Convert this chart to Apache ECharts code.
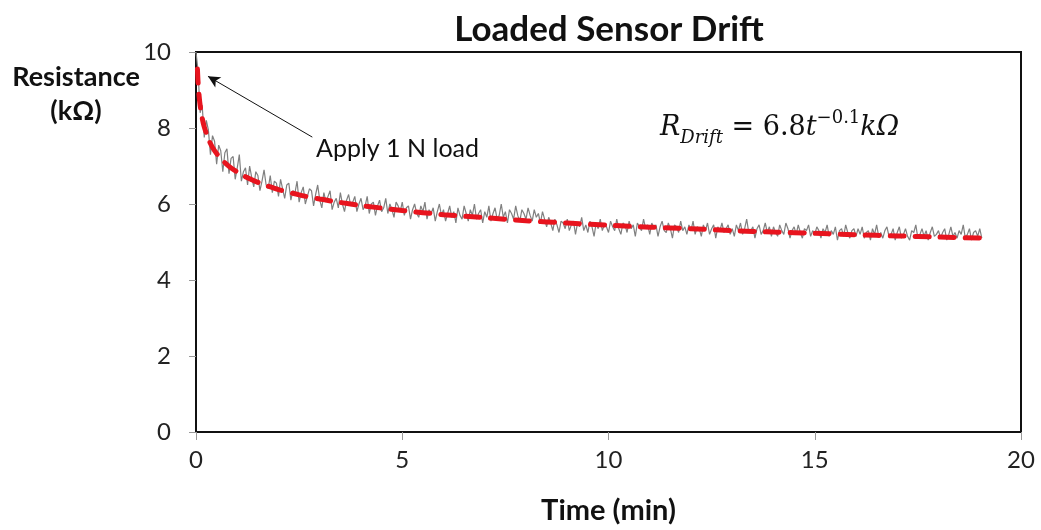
<!DOCTYPE html>
<html>
<head>
<meta charset="utf-8">
<script src="https://cdn.jsdelivr.net/npm/echarts@6/dist/echarts.min.js"></script>
<style>
  html, body { margin: 0; padding: 0; background: #fff; }
  #divDrift { width: 1041px; height: 530px; }
</style>
</head>
<body>
<div id="divDrift"></div>
<script>
// measured resistance, one sample every 0.05 min starting at t = 0
var sampleStep = 0.05;
var measured = [
    10.0, 9.5, 8.4, 8.6, 7.75, 8.2, 7.95, 7.3, 7.8, 7.65, 7.05, 7.55, 7.4, 6.85, 7.35, 7.45, 6.8, 7.2, 7.25, 6.65,
    6.95, 7.3, 6.6, 6.85, 6.95, 6.5, 7.0, 6.7, 6.45, 6.85, 6.75, 6.35, 6.6, 6.9, 6.5, 6.4, 6.75, 6.3, 6.6, 6.55,
    6.2, 6.65, 6.4, 6.15, 6.5, 6.55, 6.1, 6.35, 6.3, 6.6, 6.05, 6.3, 6.45, 6.0, 6.2, 6.4, 6.35, 5.95, 6.25, 6.5,
    6.1, 5.9, 6.3, 6.05, 6.2, 6.35, 5.85, 6.05, 6.15, 5.9, 6.3, 6.0, 5.8, 6.1, 6.25, 5.95, 6.05, 6.2, 5.8, 6.0,
    6.15, 5.85, 5.95, 6.2, 5.75, 6.0, 6.05, 5.7, 5.95, 6.1, 5.8, 5.9, 6.15, 5.75, 6.0, 5.85, 5.65, 6.05, 5.95, 5.8,
    6.05, 5.7, 5.9, 5.95, 5.6, 5.85, 6.0, 5.75, 5.65, 5.95, 5.8, 6.05, 5.6, 5.85, 5.75, 5.9, 5.55, 5.8, 6.0, 5.7,
    5.85, 5.55, 5.75, 5.95, 5.65, 5.8, 5.5, 5.9, 5.7, 5.6, 5.95, 5.75, 5.55, 5.85, 5.7, 6.0, 5.6, 5.75, 5.85, 5.5,
    5.8, 5.65, 5.95, 5.55, 5.75, 5.9, 5.6, 5.7, 6.0, 5.65, 5.8, 5.5, 5.85, 5.75, 5.6, 5.95, 5.7, 5.55, 5.85, 5.75,
    5.6, 5.9, 5.7, 5.55, 5.85, 5.65, 5.75, 5.5, 5.8, 5.6, 5.4, 5.65, 5.5, 5.3, 5.6, 5.45, 5.25, 5.55, 5.5, 5.35,
    5.6, 5.3, 5.45, 5.55, 5.2, 5.5, 5.4, 5.65, 5.3, 5.45, 5.25, 5.55, 5.4, 5.15, 5.5, 5.35, 5.6, 5.3, 5.45, 5.4,
    5.25, 5.55, 5.4, 5.3, 5.6, 5.35, 5.2, 5.5, 5.45, 5.25, 5.55, 5.35, 5.45, 5.15, 5.5, 5.4, 5.3, 5.6, 5.35, 5.45,
    5.2, 5.5, 5.35, 5.45, 5.15, 5.4, 5.55, 5.3, 5.25, 5.5, 5.35, 5.1, 5.45, 5.4, 5.25, 5.55, 5.3, 5.4, 5.2, 5.45,
    5.3, 5.55, 5.2, 5.4, 5.35, 5.15, 5.45, 5.3, 5.5, 5.2, 5.35, 5.45, 5.1, 5.4, 5.3, 5.5, 5.25, 5.35, 5.45, 5.2,
    5.35, 5.15, 5.45, 5.3, 5.5, 5.2, 5.35, 5.6, 5.25, 5.3, 5.4, 5.1, 5.35, 5.45, 5.2, 5.3, 5.5, 5.25, 5.4, 5.15,
    5.4, 5.25, 5.15, 5.45, 5.3, 5.2, 5.5, 5.35, 5.1, 5.3, 5.4, 5.2, 5.45, 5.25, 5.1, 5.35, 5.3, 5.45, 5.15, 5.3,
    5.2, 5.4, 5.3, 5.1, 5.35, 5.25, 5.45, 5.15, 5.3, 5.2, 5.4, 5.05, 5.3, 5.35, 5.15, 5.45, 5.25, 5.1, 5.3, 5.35,
    5.15, 5.35, 5.2, 5.4, 5.1, 5.25, 5.3, 5.05, 5.35, 5.2, 5.45, 5.15, 5.25, 5.1, 5.3, 5.4, 5.15, 5.2, 5.35, 5.05,
    5.25, 5.4, 5.1, 5.2, 5.35, 5.15, 5.05, 5.3, 5.25, 5.45, 5.1, 5.2, 5.35, 5.15, 5.3, 5.05, 5.25, 5.4, 5.15, 5.2,
    5.3, 5.1, 5.25, 5.35, 5.05, 5.2, 5.4, 5.15, 5.25, 5.1, 5.3, 5.2, 5.45, 5.1, 5.2, 5.35, 5.05, 5.25, 5.3, 5.15,
    5.35, 5.1
];

// dashed drift fit R = 6.8 t^-0.1
var fitTime = [0.035, 0.05, 0.075, 0.1, 0.15, 0.2, 0.3, 0.4, 0.5, 0.65, 0.8, 1, 1.25, 1.5, 1.75, 2, 2.5, 3, 3.5, 4,
               5, 6, 7, 8, 9, 10, 11, 12, 13, 14, 15, 16, 17, 18, 19.2];
var fitR = [9.55, 9.21, 8.85, 8.6, 8.26, 8.03, 7.71, 7.49, 7.33, 7.14, 6.99, 6.84, 6.69, 6.57, 6.47, 6.38, 6.24, 6.13, 6.04, 5.96,
            5.83, 5.72, 5.64, 5.56, 5.5, 5.44, 5.39, 5.35, 5.3, 5.26, 5.23, 5.19, 5.16, 5.13, 5.1];

// annotation arrow: from label to the load step
var arrowFrom = [2.82, 7.76];
var arrowTo = [0.29, 9.36];

var xTicks = { min: 0, max: 20, interval: 5 };
var yTicks = { min: 0, max: 10, interval: 2 };

var uiFont = 'Lato, "Open Sans", sans-serif';
var mathFont = '"DejaVu Serif", "Liberation Serif", serif';

var chart;
var chartOption;

function drift_init() {
    chart = echarts.init(document.getElementById('divDrift'));

    var measuredData = [];
    for (let i = 0; i < measured.length; ++i) {
        measuredData.push([+(i * sampleStep).toFixed(2), measured[i]]);
    }
    var fitData = [];
    for (let i = 0; i < fitTime.length; ++i) {
        fitData.push([fitTime[i], fitR[i]]);
    }

    chartOption = {
        animation: false,
        backgroundColor: '#fff',
        title: {
            text: 'Loaded Sensor Drift',
            left: 604,
            top: 7,
            textAlign: 'center',
            textStyle: { fontFamily: uiFont, fontWeight: 'bold', fontSize: 35, color: '#111' }
        },
        grid: {
            left: 196,
            right: 20,
            top: 52,
            bottom: 96,
            show: true,
            borderColor: '#111',
            borderWidth: 2,
            backgroundColor: 'transparent'
        },
        xAxis: {
            type: 'value',
            min: xTicks.min,
            max: xTicks.max,
            interval: xTicks.interval,
            name: 'Time (min)',
            nameLocation: 'middle',
            nameGap: 64,
            nameTextStyle: { fontFamily: uiFont, fontWeight: 'bold', fontSize: 29, color: '#111' },
            axisLine: { show: true, lineStyle: { color: '#111', width: 2 } },
            axisTick: { show: true, length: 8, lineStyle: { color: '#999' } },
            axisLabel: { margin: 16, fontFamily: uiFont, fontSize: 24, color: '#222' },
            splitLine: { show: false }
        },
        yAxis: {
            type: 'value',
            min: yTicks.min,
            max: yTicks.max,
            interval: yTicks.interval,
            axisLine: { show: true, lineStyle: { color: '#111', width: 2 } },
            axisTick: { show: true, length: 7, lineStyle: { color: '#999' } },
            axisLabel: { margin: 25, fontFamily: uiFont, fontSize: 24, color: '#222' },
            splitLine: { show: false }
        },
        graphic: [
            {
                type: 'text', x: 76, y: 77,
                style: { text: 'Resistance', align: 'center', verticalAlign: 'middle', fontFamily: uiFont, fontWeight: 'bold', fontSize: 27, fill: '#111' }
            },
            {
                type: 'text', x: 76, y: 111,
                style: { text: '(kΩ)', align: 'center', verticalAlign: 'middle', fontFamily: uiFont, fontWeight: 'bold', fontSize: 27, fill: '#111' }
            },
            {
                type: 'text', x: 316, y: 149,
                style: { text: 'Apply 1 N load', align: 'left', verticalAlign: 'middle', fontFamily: uiFont, fontSize: 25, fill: '#111' }
            },
            {
                type: 'text', x: 660, y: 128,
                style: {
                    text: '{it|R}{sub|Drift}{n| = 6.8}{it|t}{sup|\u22120.1}{it|kΩ}',
                    align: 'left',
                    verticalAlign: 'middle',
                    rich: {
                        it: { fontFamily: mathFont, fontStyle: 'italic', fontSize: 27, fill: '#111', verticalAlign: 'middle', lineHeight: 38 },
                        n: { fontFamily: mathFont, fontSize: 27, fill: '#111', verticalAlign: 'middle', lineHeight: 38 },
                        sub: { fontFamily: mathFont, fontStyle: 'italic', fontSize: 18, fill: '#111', verticalAlign: 'bottom', lineHeight: 38 },
                        sup: { fontFamily: mathFont, fontSize: 18, fill: '#111', verticalAlign: 'top', lineHeight: 38 }
                    }
                }
            }
        ],
        series: [
            {
                name: 'Measured',
                type: 'line',
                data: measuredData,
                showSymbol: false,
                symbol: 'none',
                lineStyle: { color: '#808080', width: 1.2 },
                z: 2,
                markLine: {
                    silent: true,
                    symbol: ['none', 'arrow'],
                    symbolSize: [9, 12],
                    label: { show: false },
                    lineStyle: { color: '#111', width: 1, type: 'solid' },
                    data: [[{ coord: arrowFrom }, { coord: arrowTo }]]
                }
            },
            {
                name: 'Fit',
                type: 'line',
                data: fitData,
                smooth: 0.3,
                showSymbol: false,
                symbol: 'none',
                lineStyle: { color: '#e8141e', width: 5, type: [14, 11], cap: 'round' },
                z: 3
            }
        ]
    };
    chart.setOption(chartOption);
}

drift_init();
</script>
</body>
</html>
